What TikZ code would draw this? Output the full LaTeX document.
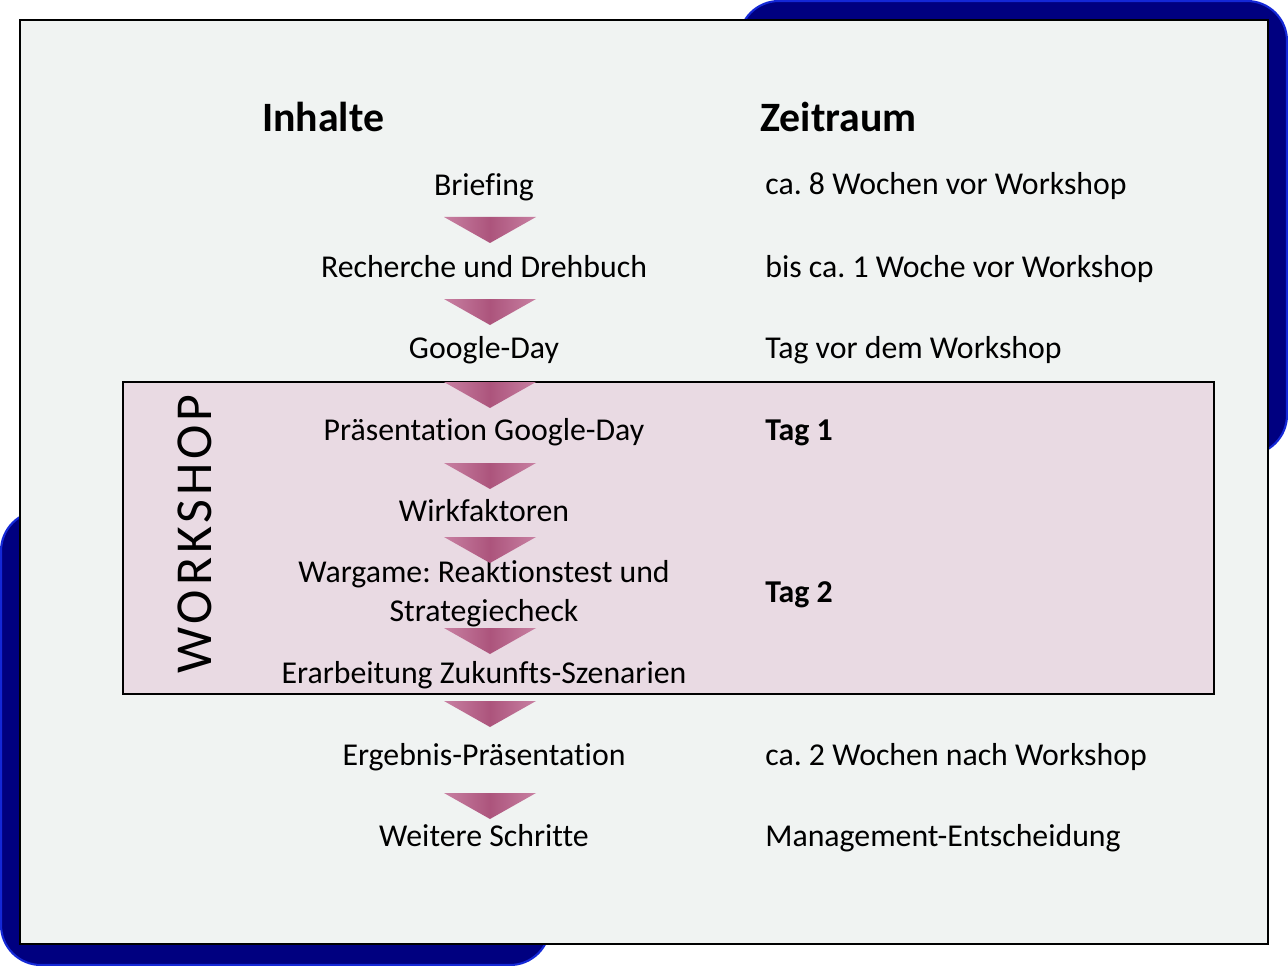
\documentclass[tikz,border=0pt]{standalone}
\usepackage{fontspec}
\setmainfont{Carlito}[Ligatures=NoCommon]
\newfontfamily\wsfont[LetterSpace=7.5]{Carlito}
\usepackage{tikz}
\usetikzlibrary{positioning, calc}
\frenchspacing

\definecolor{navyback}{RGB}{0, 0, 128}
\definecolor{navyrim}{RGB}{20, 40, 215}
\definecolor{panelgray}{RGB}{240, 243, 242}
\definecolor{wspink}{RGB}{233, 218, 227}
\definecolor{tridark}{RGB}{172, 84, 124}
\definecolor{trilight}{RGB}{200, 128, 162}

\tikzset{
  headtxt/.style={font=\fontsize{23.8}{28}\selectfont\bfseries, anchor=base, inner sep=0pt},
  steptxt/.style={font=\fontsize{18.1}{22.1}\selectfont, anchor=base, inner sep=0pt, align=center},
  timetxt/.style={font=\fontsize{18.1}{22.1}\selectfont, anchor=base west, inner sep=0pt},
  flowtri/.style={left color=trilight, right color=trilight, middle color=tridark}
}
\newcommand{\downtri}[1]{\shade[flowtri] (444,#1) -- (536,#1) -- (490,#1+26) -- cycle;}

\begin{document}
\begin{tikzpicture}[x=0.02cm, y=-0.02cm]
  \useasboundingbox (0,0) rectangle (1288,966);

  % navy frame pieces behind the panel
  \draw[fill=navyback, draw=navyrim, line width=1.2pt, rounded corners=0.8cm] (739,1) rectangle (1287,455);
  \draw[fill=navyback, draw=navyrim, line width=1.2pt, rounded corners=0.8cm] (1,511) rectangle (550,965);

  % main panel
  \draw[fill=panelgray, line width=1.2pt] (20,20) rectangle (1268,944);

  % workshop block
  \draw[fill=wspink, line width=1pt] (123,382) rectangle (1214,694);
  \node[rotate=90, inner sep=0pt, font=\fontsize{29.5}{30}\wsfont] (ws) at (195,534) {WORKSHOP};

  % headings
  \node[headtxt] (inhalte) at (323,132) {Inhalte};
  \node[headtxt, anchor=base west] (zeitraum) at (760,132) {Zeitraum};

  % steps
  \node[steptxt] (brief) at (484,196) {Briefing};
  \node[steptxt] (recherche) at (484,277) {Recherche und Drehbuch};
  \node[steptxt] (google) at (484,358) {Google-Day};
  \node[steptxt] (praes) at (484,440) {Präsentation Google-Day};
  \node[steptxt] (wirk) at (484,521) {Wirkfaktoren};
  \node[steptxt] (wargame) at (484,621) {Wargame: Reaktionstest und\\Strategiecheck};
  \node[steptxt] (erarb) at (484,683) {Erarbeitung Zukunfts-Szenarien};
  \node[steptxt] (ergebnis) at (484,765) {Ergebnis-Präsentation};
  \node[steptxt] (weitere) at (484,846) {Weitere Schritte};

  % arrows between steps
  \downtri{217}
  \downtri{299}
  \downtri{382}
  \downtri{463}
  \downtri{537}
  \downtri{628}
  \downtri{701}
  \downtri{793}

  % time frame
  \node[timetxt] (tbrief) at (765,195) {ca. 8 Wochen vor Workshop};
  \node[timetxt] (trecherche) at (765,277) {bis ca. 1 Woche vor Workshop};
  \node[timetxt] (tgoogle) at (765,358) {Tag vor dem Workshop};
  \node[timetxt, font=\fontsize{18.1}{22.1}\selectfont\bfseries] (tag1) at (765,440) {Tag 1};
  \node[timetxt, font=\fontsize{18.1}{22.1}\selectfont\bfseries] (tag2) at (765,602) {Tag 2};
  \node[timetxt] (tergebnis) at (765,765) {ca. 2 Wochen nach Workshop};
  \node[timetxt] (tweitere) at (765,846) {Management-Entscheidung};
\end{tikzpicture}
\end{document}
